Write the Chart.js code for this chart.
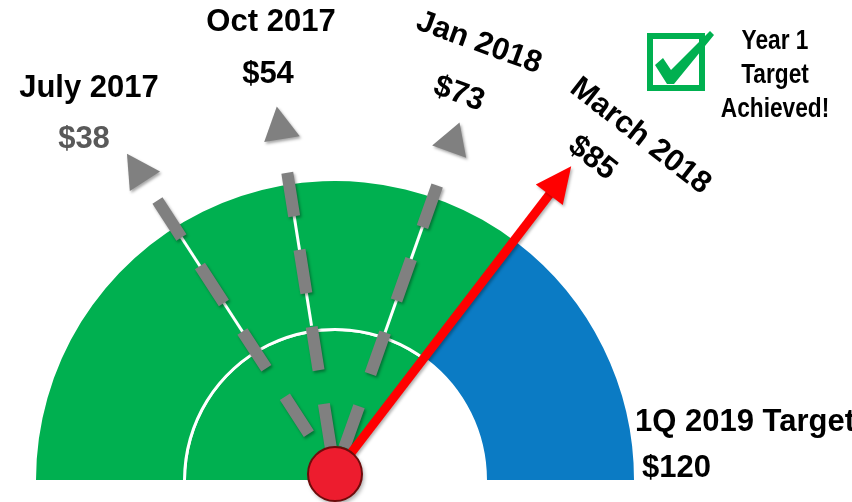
<!DOCTYPE html>
<html>
<head>
<meta charset="utf-8">
<script src="https://cdn.jsdelivr.net/npm/chart.js@4.4.1/dist/chart.umd.min.js"></script>
<style>
    html, body { margin: 0; padding: 0; background: #fff; }
    #wrap { width: 852px; height: 502px; }
</style>
</head>
<body>
<div id="wrap"><canvas id="gaugeChart" width="852" height="502"></canvas></div>
<script>
const periods = ["July 2017", "Oct 2017", "Jan 2018", "March 2018"];
const revenue = [38, 54, 73, 85];
const priceLabels = ["$38", "$54", "$73", "$85"];
const targetValue = 120;
const targetLabels = ["1Q 2019 Target", "$120"];
const badgeLines = ["Year 1", "Target", "Achieved!"];

const GREEN = "#00B050";
const BLUE = "#0B7BC4";
const GREY = "#808080";
const FONT = "bold 31px 'Liberation Sans', Arial, sans-serif";

const achieved = revenue[revenue.length - 1];
const remaining = targetValue - achieved;

// label anchors (baseline centre) and rotation, one per period
const labelLayout = [
    { x: 89, y: 97, vx: 84, vy: 148, rot: 0, vColor: "#595959" },
    { x: 271, y: 31, vx: 268, vy: 83, rot: 0, vColor: "#000" },
    { x: 476, y: 51, vx: 456, vy: 102, rot: 20, vColor: "#000" },
    { x: 635, y: 143, vx: 587, vy: 165, rot: 38, vColor: "#000" },
];

// dashed needle geometry (distance from pivot)
const needleStyle = [
    { start: 48, end: 326, head: 349, tip: 382 },
    { start: 27, end: 309, head: 339, tip: 372 },
    { start: 28, end: 310, head: 342, tip: 373 },
];

const PIVOT_LIFT = 6;

function drawDashedNeedle(ctx, cx, cy, ang, st) {
    const dx = Math.cos(ang);
    const dy = Math.sin(ang);
    const pt = (r) => [cx + dx * r, cy + dy * r];
    ctx.save();
    ctx.strokeStyle = "#fff";
    ctx.lineWidth = 3;
    ctx.beginPath();
    ctx.moveTo(...pt(150));
    ctx.lineTo(...pt(st.head));
    ctx.stroke();

    ctx.shadowColor = "rgba(0,0,0,0.35)";
    ctx.shadowBlur = 3;
    ctx.shadowOffsetX = 1.5;
    ctx.shadowOffsetY = 2;
    ctx.strokeStyle = GREY;
    ctx.lineWidth = 12;
    ctx.lineCap = "butt";
    ctx.setLineDash([44, 34]);
    ctx.beginPath();
    ctx.moveTo(...pt(st.start));
    ctx.lineTo(...pt(st.end));
    ctx.stroke();
    ctx.setLineDash([]);

    const [bx, by] = pt(st.head);
    const [tx, ty] = pt(st.tip);
    ctx.fillStyle = GREY;
    ctx.beginPath();
    ctx.moveTo(tx, ty);
    ctx.lineTo(bx - dy * 18, by + dx * 18);
    ctx.lineTo(bx + dy * 18, by - dx * 18);
    ctx.closePath();
    ctx.fill();
    ctx.restore();
}

function drawRedArrow(ctx, cx, cy, ang) {
    const dx = Math.cos(ang);
    const dy = Math.sin(ang);
    ctx.save();
    ctx.shadowColor = "rgba(0,0,0,0.3)";
    ctx.shadowBlur = 3;
    ctx.shadowOffsetX = 1.5;
    ctx.shadowOffsetY = 2;
    ctx.strokeStyle = "#FF0000";
    ctx.lineWidth = 9;
    ctx.beginPath();
    ctx.moveTo(cx, cy);
    ctx.lineTo(cx + dx * 356, cy + dy * 356);
    ctx.stroke();
    const bx = cx + dx * 352, by = cy + dy * 352;
    ctx.fillStyle = "#FF0000";
    ctx.beginPath();
    ctx.moveTo(cx + dx * 388, cy + dy * 388);
    ctx.lineTo(bx - dy * 17, by + dx * 17);
    ctx.lineTo(bx + dy * 17, by - dx * 17);
    ctx.closePath();
    ctx.fill();
    ctx.restore();
}

function drawText(ctx, text, x, y, rot, color, align) {
    ctx.save();
    ctx.translate(x, y);
    ctx.rotate(rot * Math.PI / 180);
    ctx.font = FONT;
    ctx.fillStyle = color;
    ctx.textAlign = align || "center";
    ctx.textBaseline = "alphabetic";
    ctx.fillText(text, 0, 0);
    ctx.restore();
}

function drawBadge(ctx) {
    ctx.save();
    ctx.strokeStyle = GREEN;
    ctx.lineWidth = 6;
    ctx.strokeRect(650, 36, 52, 52);
    ctx.fillStyle = GREEN;
    ctx.beginPath();
    ctx.moveTo(655, 65);
    ctx.lineTo(663, 58);
    ctx.lineTo(671, 70);
    ctx.lineTo(710, 31);
    ctx.lineTo(714, 35);
    ctx.lineTo(674, 84);
    ctx.lineTo(667, 84);
    ctx.closePath();
    ctx.fill();

    ctx.font = "bold 27px 'Liberation Sans', Arial, sans-serif";
    ctx.fillStyle = "#000";
    ctx.textAlign = "center";
    const baselines = [49, 83, 117];
    badgeLines.forEach((line, i) => {
        ctx.save();
        ctx.translate(775, baselines[i]);
        ctx.scale(0.84, 1);
        ctx.fillText(line, 0, 0);
        ctx.restore();
    });
    ctx.restore();
}

const gaugeOverlay = {
    id: "gaugeOverlay",
    afterDatasetsDraw(chart) {
        const ctx = chart.ctx;
        const arcs = chart.getDatasetMeta(0).data;
        const start = arcs[0].startAngle;
        const span = arcs[arcs.length - 1].endAngle - start;
        const cx = arcs[0].x;
        const cy = arcs[0].y - PIVOT_LIFT;
        const angleOf = (v) => start + (v / targetValue) * span;

        revenue.slice(0, -1).forEach((v, i) => drawDashedNeedle(ctx, cx, cy, angleOf(v), needleStyle[i]));
        drawRedArrow(ctx, cx, cy, angleOf(achieved));

        ctx.save();
        ctx.shadowColor = "rgba(0,0,0,0.35)";
        ctx.shadowBlur = 4;
        ctx.shadowOffsetX = 2;
        ctx.shadowOffsetY = 3;
        ctx.fillStyle = "#ED1C2E";
        ctx.beginPath();
        ctx.arc(cx, cy, 27, 0, Math.PI * 2);
        ctx.fill();
        ctx.shadowColor = "transparent";
        ctx.strokeStyle = "#6E0B0B";
        ctx.lineWidth = 2;
        ctx.stroke();
        ctx.restore();
    },
    afterDraw(chart) {
        const ctx = chart.ctx;
        periods.forEach((p, i) => {
            const l = labelLayout[i];
            drawText(ctx, p, l.x, l.y, l.rot, "#000");
            drawText(ctx, priceLabels[i], l.vx, l.vy, l.rot, l.vColor);
        });
        drawText(ctx, targetLabels[0], 635, 431, 0, "#000", "left");
        drawText(ctx, targetLabels[1], 642, 477, 0, "#000", "left");
        drawBadge(ctx);
    },
};

const gaugeChart = new Chart(document.getElementById("gaugeChart").getContext("2d"), {
    type: "doughnut",
    data: {
        labels: ["Achieved", "Remaining"],
        datasets: [
            { data: [achieved, remaining], backgroundColor: [GREEN, BLUE], weight: 148 },
            { data: [achieved, remaining], backgroundColor: ["#fff", "rgba(0,0,0,0)"], weight: 3 },
            { data: [achieved, remaining], backgroundColor: [GREEN, "rgba(0,0,0,0)"], weight: 150 },
        ],
    },
    options: {
        responsive: false,
        animation: false,
        devicePixelRatio: 1,
        events: [],
        rotation: -90,
        circumference: 180,
        cutout: 0,
        borderWidth: 0,
        layout: { padding: { left: 34, right: 216, top: 181, bottom: 22 } },
        plugins: { legend: { display: false }, tooltip: { enabled: false } },
    },
    plugins: [gaugeOverlay],
});
</script>
</body>
</html>
